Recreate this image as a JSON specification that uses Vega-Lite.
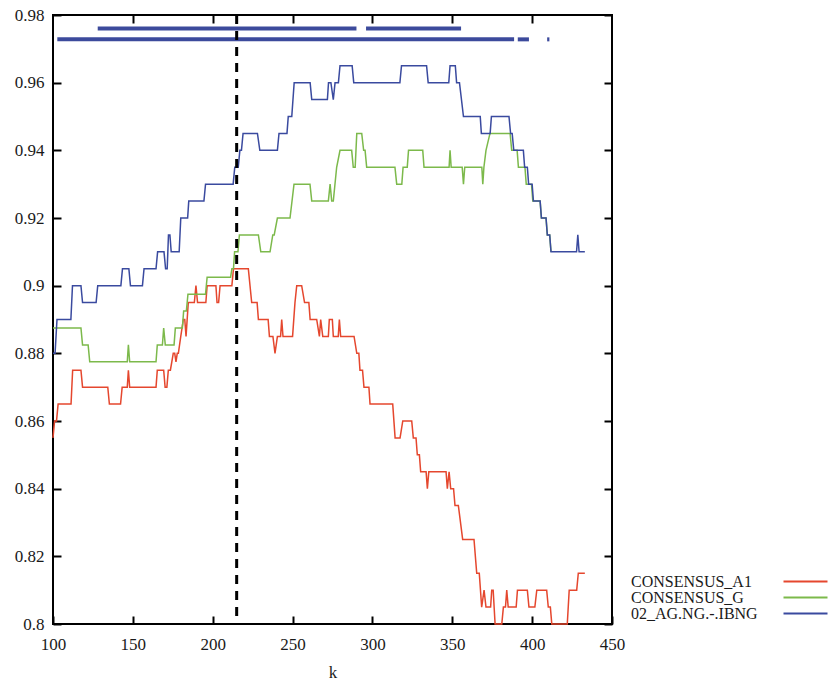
{
  "$schema": "https://vega.github.io/schema/vega-lite/v6.json",
  "width": 559,
  "height": 609,
  "autosize": {"type": "none"},
  "padding": {"left": 53, "top": 15, "right": 218, "bottom": 57},
  "background": "white",
  "config": {
    "view": {"stroke": "black", "strokeWidth": 2},
    "axis": {
      "labelFont": "Liberation Serif",
      "titleFont": "Liberation Serif",
      "labelFontSize": 17,
      "titleFontSize": 17,
      "titleFontWeight": "normal",
      "labelColor": "#1a1a1a",
      "titleColor": "#1a1a1a",
      "grid": false,
      "domain": false,
      "tickColor": "black",
      "tickWidth": 2,
      "tickSize": -8,
      "labelFlush": false
    }
  },
  "datasets": {
    "lines": [
      {"s":"CONSENSUS_A1","k":100,"v":0.855},{"s":"CONSENSUS_A1","k":101,"v":0.86},{"s":"CONSENSUS_A1","k":102.2,"v":0.86},{"s":"CONSENSUS_A1","k":103.2,"v":0.865},{"s":"CONSENSUS_A1","k":111.3,"v":0.865},{"s":"CONSENSUS_A1","k":112.3,"v":0.875},{"s":"CONSENSUS_A1","k":117.5,"v":0.875},{"s":"CONSENSUS_A1","k":118.5,"v":0.87},{"s":"CONSENSUS_A1","k":134.3,"v":0.87},{"s":"CONSENSUS_A1","k":135.3,"v":0.865},{"s":"CONSENSUS_A1","k":142.3,"v":0.865},{"s":"CONSENSUS_A1","k":143.3,"v":0.87},{"s":"CONSENSUS_A1","k":146.5,"v":0.87},{"s":"CONSENSUS_A1","k":147.2,"v":0.875},{"s":"CONSENSUS_A1","k":148,"v":0.87},{"s":"CONSENSUS_A1","k":164.5,"v":0.87},{"s":"CONSENSUS_A1","k":165.3,"v":0.875},{"s":"CONSENSUS_A1","k":169.3,"v":0.875},{"s":"CONSENSUS_A1","k":170.2,"v":0.87},{"s":"CONSENSUS_A1","k":171.3,"v":0.87},{"s":"CONSENSUS_A1","k":172.2,"v":0.875},{"s":"CONSENSUS_A1","k":173.5,"v":0.875},{"s":"CONSENSUS_A1","k":175.3,"v":0.88},{"s":"CONSENSUS_A1","k":176.2,"v":0.88},{"s":"CONSENSUS_A1","k":177,"v":0.8775},{"s":"CONSENSUS_A1","k":177.8,"v":0.88},{"s":"CONSENSUS_A1","k":178.5,"v":0.88},{"s":"CONSENSUS_A1","k":180,"v":0.885},{"s":"CONSENSUS_A1","k":181.6,"v":0.89},{"s":"CONSENSUS_A1","k":182.5,"v":0.89},{"s":"CONSENSUS_A1","k":183.3,"v":0.885},{"s":"CONSENSUS_A1","k":184.7,"v":0.895},{"s":"CONSENSUS_A1","k":188.5,"v":0.895},{"s":"CONSENSUS_A1","k":189.5,"v":0.9},{"s":"CONSENSUS_A1","k":190.5,"v":0.895},{"s":"CONSENSUS_A1","k":195.7,"v":0.895},{"s":"CONSENSUS_A1","k":196.5,"v":0.9},{"s":"CONSENSUS_A1","k":202,"v":0.9},{"s":"CONSENSUS_A1","k":202.7,"v":0.895},{"s":"CONSENSUS_A1","k":203.7,"v":0.895},{"s":"CONSENSUS_A1","k":204.6,"v":0.9},{"s":"CONSENSUS_A1","k":212,"v":0.9},{"s":"CONSENSUS_A1","k":213,"v":0.905},{"s":"CONSENSUS_A1","k":222.3,"v":0.905},{"s":"CONSENSUS_A1","k":224.4,"v":0.895},{"s":"CONSENSUS_A1","k":227.8,"v":0.895},{"s":"CONSENSUS_A1","k":228.6,"v":0.89},{"s":"CONSENSUS_A1","k":234.7,"v":0.89},{"s":"CONSENSUS_A1","k":235.5,"v":0.885},{"s":"CONSENSUS_A1","k":237.7,"v":0.885},{"s":"CONSENSUS_A1","k":239,"v":0.88},{"s":"CONSENSUS_A1","k":240.5,"v":0.885},{"s":"CONSENSUS_A1","k":242.5,"v":0.885},{"s":"CONSENSUS_A1","k":243.2,"v":0.89},{"s":"CONSENSUS_A1","k":244,"v":0.885},{"s":"CONSENSUS_A1","k":250,"v":0.885},{"s":"CONSENSUS_A1","k":251.5,"v":0.895},{"s":"CONSENSUS_A1","k":252.6,"v":0.9},{"s":"CONSENSUS_A1","k":255.7,"v":0.9},{"s":"CONSENSUS_A1","k":257.5,"v":0.895},{"s":"CONSENSUS_A1","k":260.2,"v":0.895},{"s":"CONSENSUS_A1","k":261,"v":0.89},{"s":"CONSENSUS_A1","k":265.1,"v":0.89},{"s":"CONSENSUS_A1","k":266.8,"v":0.885},{"s":"CONSENSUS_A1","k":267.6,"v":0.89},{"s":"CONSENSUS_A1","k":268.9,"v":0.885},{"s":"CONSENSUS_A1","k":272.4,"v":0.885},{"s":"CONSENSUS_A1","k":273,"v":0.89},{"s":"CONSENSUS_A1","k":274.9,"v":0.89},{"s":"CONSENSUS_A1","k":275.5,"v":0.885},{"s":"CONSENSUS_A1","k":278.6,"v":0.885},{"s":"CONSENSUS_A1","k":279.3,"v":0.89},{"s":"CONSENSUS_A1","k":280.1,"v":0.885},{"s":"CONSENSUS_A1","k":288.5,"v":0.885},{"s":"CONSENSUS_A1","k":290.2,"v":0.88},{"s":"CONSENSUS_A1","k":291.5,"v":0.88},{"s":"CONSENSUS_A1","k":292.2,"v":0.875},{"s":"CONSENSUS_A1","k":293.8,"v":0.875},{"s":"CONSENSUS_A1","k":294.7,"v":0.87},{"s":"CONSENSUS_A1","k":297.8,"v":0.87},{"s":"CONSENSUS_A1","k":298.5,"v":0.865},{"s":"CONSENSUS_A1","k":312.7,"v":0.865},{"s":"CONSENSUS_A1","k":314.2,"v":0.855},{"s":"CONSENSUS_A1","k":317.3,"v":0.855},{"s":"CONSENSUS_A1","k":319,"v":0.86},{"s":"CONSENSUS_A1","k":324.6,"v":0.86},{"s":"CONSENSUS_A1","k":325.6,"v":0.855},{"s":"CONSENSUS_A1","k":327.3,"v":0.855},{"s":"CONSENSUS_A1","k":328.1,"v":0.85},{"s":"CONSENSUS_A1","k":329.4,"v":0.85},{"s":"CONSENSUS_A1","k":330.2,"v":0.845},{"s":"CONSENSUS_A1","k":333.6,"v":0.845},{"s":"CONSENSUS_A1","k":334.4,"v":0.84},{"s":"CONSENSUS_A1","k":335.3,"v":0.845},{"s":"CONSENSUS_A1","k":346.1,"v":0.845},{"s":"CONSENSUS_A1","k":346.9,"v":0.84},{"s":"CONSENSUS_A1","k":348,"v":0.845},{"s":"CONSENSUS_A1","k":349,"v":0.84},{"s":"CONSENSUS_A1","k":350.8,"v":0.84},{"s":"CONSENSUS_A1","k":351.7,"v":0.835},{"s":"CONSENSUS_A1","k":353.8,"v":0.835},{"s":"CONSENSUS_A1","k":356.5,"v":0.825},{"s":"CONSENSUS_A1","k":363.6,"v":0.825},{"s":"CONSENSUS_A1","k":365.3,"v":0.815},{"s":"CONSENSUS_A1","k":366.9,"v":0.815},{"s":"CONSENSUS_A1","k":368.4,"v":0.805},{"s":"CONSENSUS_A1","k":369.9,"v":0.81},{"s":"CONSENSUS_A1","k":371.1,"v":0.805},{"s":"CONSENSUS_A1","k":374,"v":0.805},{"s":"CONSENSUS_A1","k":374.7,"v":0.81},{"s":"CONSENSUS_A1","k":375.6,"v":0.81},{"s":"CONSENSUS_A1","k":376.8,"v":0.8},{"s":"CONSENSUS_A1","k":381,"v":0.8},{"s":"CONSENSUS_A1","k":382,"v":0.805},{"s":"CONSENSUS_A1","k":383.3,"v":0.805},{"s":"CONSENSUS_A1","k":384.1,"v":0.81},{"s":"CONSENSUS_A1","k":385,"v":0.805},{"s":"CONSENSUS_A1","k":390,"v":0.805},{"s":"CONSENSUS_A1","k":390.8,"v":0.81},{"s":"CONSENSUS_A1","k":397,"v":0.81},{"s":"CONSENSUS_A1","k":398,"v":0.805},{"s":"CONSENSUS_A1","k":401.7,"v":0.805},{"s":"CONSENSUS_A1","k":402.9,"v":0.81},{"s":"CONSENSUS_A1","k":409.1,"v":0.81},{"s":"CONSENSUS_A1","k":410.1,"v":0.805},{"s":"CONSENSUS_A1","k":411.4,"v":0.805},{"s":"CONSENSUS_A1","k":412.3,"v":0.8},{"s":"CONSENSUS_A1","k":422,"v":0.8},{"s":"CONSENSUS_A1","k":423.2,"v":0.81},{"s":"CONSENSUS_A1","k":427.9,"v":0.81},{"s":"CONSENSUS_A1","k":428.9,"v":0.815},{"s":"CONSENSUS_A1","k":433,"v":0.815},

      {"s":"CONSENSUS_G","k":100,"v":0.8875},{"s":"CONSENSUS_G","k":117.5,"v":0.8875},{"s":"CONSENSUS_G","k":118.5,"v":0.8825},{"s":"CONSENSUS_G","k":122,"v":0.8825},{"s":"CONSENSUS_G","k":123,"v":0.8775},{"s":"CONSENSUS_G","k":146.5,"v":0.8775},{"s":"CONSENSUS_G","k":147.2,"v":0.8825},{"s":"CONSENSUS_G","k":148,"v":0.8775},{"s":"CONSENSUS_G","k":164.5,"v":0.8775},{"s":"CONSENSUS_G","k":165.3,"v":0.8825},{"s":"CONSENSUS_G","k":168.5,"v":0.8825},{"s":"CONSENSUS_G","k":169.3,"v":0.8875},{"s":"CONSENSUS_G","k":170.3,"v":0.8825},{"s":"CONSENSUS_G","k":175.8,"v":0.8825},{"s":"CONSENSUS_G","k":176.6,"v":0.8875},{"s":"CONSENSUS_G","k":181,"v":0.8875},{"s":"CONSENSUS_G","k":181.8,"v":0.8925},{"s":"CONSENSUS_G","k":183.5,"v":0.8925},{"s":"CONSENSUS_G","k":184.5,"v":0.8975},{"s":"CONSENSUS_G","k":195.5,"v":0.8975},{"s":"CONSENSUS_G","k":196.5,"v":0.9025},{"s":"CONSENSUS_G","k":211.2,"v":0.9025},{"s":"CONSENSUS_G","k":212,"v":0.905},{"s":"CONSENSUS_G","k":213,"v":0.905},{"s":"CONSENSUS_G","k":213.7,"v":0.91},{"s":"CONSENSUS_G","k":215.8,"v":0.91},{"s":"CONSENSUS_G","k":216.7,"v":0.915},{"s":"CONSENSUS_G","k":228.6,"v":0.915},{"s":"CONSENSUS_G","k":230.1,"v":0.91},{"s":"CONSENSUS_G","k":235.9,"v":0.91},{"s":"CONSENSUS_G","k":237.6,"v":0.915},{"s":"CONSENSUS_G","k":238.5,"v":0.915},{"s":"CONSENSUS_G","k":240.5,"v":0.92},{"s":"CONSENSUS_G","k":248.4,"v":0.92},{"s":"CONSENSUS_G","k":250.9,"v":0.93},{"s":"CONSENSUS_G","k":260.9,"v":0.93},{"s":"CONSENSUS_G","k":262,"v":0.925},{"s":"CONSENSUS_G","k":272.4,"v":0.925},{"s":"CONSENSUS_G","k":273.5,"v":0.93},{"s":"CONSENSUS_G","k":274.5,"v":0.925},{"s":"CONSENSUS_G","k":275.5,"v":0.925},{"s":"CONSENSUS_G","k":277.6,"v":0.935},{"s":"CONSENSUS_G","k":279.7,"v":0.94},{"s":"CONSENSUS_G","k":287,"v":0.94},{"s":"CONSENSUS_G","k":288,"v":0.935},{"s":"CONSENSUS_G","k":289.2,"v":0.935},{"s":"CONSENSUS_G","k":290.2,"v":0.945},{"s":"CONSENSUS_G","k":293.3,"v":0.945},{"s":"CONSENSUS_G","k":294.5,"v":0.94},{"s":"CONSENSUS_G","k":295.4,"v":0.94},{"s":"CONSENSUS_G","k":296.4,"v":0.935},{"s":"CONSENSUS_G","k":314.1,"v":0.935},{"s":"CONSENSUS_G","k":315.2,"v":0.93},{"s":"CONSENSUS_G","k":318.4,"v":0.93},{"s":"CONSENSUS_G","k":319.2,"v":0.935},{"s":"CONSENSUS_G","k":321.8,"v":0.935},{"s":"CONSENSUS_G","k":322.6,"v":0.94},{"s":"CONSENSUS_G","k":331.5,"v":0.94},{"s":"CONSENSUS_G","k":332.3,"v":0.935},{"s":"CONSENSUS_G","k":348,"v":0.935},{"s":"CONSENSUS_G","k":348.6,"v":0.94},{"s":"CONSENSUS_G","k":349.3,"v":0.935},{"s":"CONSENSUS_G","k":356.2,"v":0.935},{"s":"CONSENSUS_G","k":357,"v":0.93},{"s":"CONSENSUS_G","k":357.8,"v":0.935},{"s":"CONSENSUS_G","k":368.5,"v":0.935},{"s":"CONSENSUS_G","k":369.1,"v":0.93},{"s":"CONSENSUS_G","k":369.8,"v":0.935},{"s":"CONSENSUS_G","k":371.1,"v":0.94},{"s":"CONSENSUS_G","k":373.6,"v":0.945},{"s":"CONSENSUS_G","k":386.2,"v":0.945},{"s":"CONSENSUS_G","k":387.2,"v":0.94},{"s":"CONSENSUS_G","k":390.6,"v":0.94},{"s":"CONSENSUS_G","k":391.4,"v":0.935},{"s":"CONSENSUS_G","k":395.5,"v":0.935},{"s":"CONSENSUS_G","k":396.3,"v":0.93},{"s":"CONSENSUS_G","k":399.6,"v":0.93},{"s":"CONSENSUS_G","k":400.4,"v":0.925},{"s":"CONSENSUS_G","k":405,"v":0.925},{"s":"CONSENSUS_G","k":405.8,"v":0.92},{"s":"CONSENSUS_G","k":408.7,"v":0.92},{"s":"CONSENSUS_G","k":409.5,"v":0.915},{"s":"CONSENSUS_G","k":411,"v":0.915},{"s":"CONSENSUS_G","k":411.8,"v":0.91},

      {"s":"02_AG.NG.-.IBNG","k":100,"v":0.88},{"s":"02_AG.NG.-.IBNG","k":101.3,"v":0.88},{"s":"02_AG.NG.-.IBNG","k":102.5,"v":0.89},{"s":"02_AG.NG.-.IBNG","k":111.2,"v":0.89},{"s":"02_AG.NG.-.IBNG","k":112.2,"v":0.9},{"s":"02_AG.NG.-.IBNG","k":117.5,"v":0.9},{"s":"02_AG.NG.-.IBNG","k":118.5,"v":0.895},{"s":"02_AG.NG.-.IBNG","k":127,"v":0.895},{"s":"02_AG.NG.-.IBNG","k":128,"v":0.9},{"s":"02_AG.NG.-.IBNG","k":142.5,"v":0.9},{"s":"02_AG.NG.-.IBNG","k":143.5,"v":0.905},{"s":"02_AG.NG.-.IBNG","k":147.5,"v":0.905},{"s":"02_AG.NG.-.IBNG","k":148.5,"v":0.9},{"s":"02_AG.NG.-.IBNG","k":156,"v":0.9},{"s":"02_AG.NG.-.IBNG","k":157,"v":0.905},{"s":"02_AG.NG.-.IBNG","k":164.5,"v":0.905},{"s":"02_AG.NG.-.IBNG","k":165.5,"v":0.91},{"s":"02_AG.NG.-.IBNG","k":169.5,"v":0.91},{"s":"02_AG.NG.-.IBNG","k":170.5,"v":0.905},{"s":"02_AG.NG.-.IBNG","k":171.5,"v":0.905},{"s":"02_AG.NG.-.IBNG","k":172.3,"v":0.915},{"s":"02_AG.NG.-.IBNG","k":173.2,"v":0.915},{"s":"02_AG.NG.-.IBNG","k":174,"v":0.91},{"s":"02_AG.NG.-.IBNG","k":179,"v":0.91},{"s":"02_AG.NG.-.IBNG","k":180,"v":0.92},{"s":"02_AG.NG.-.IBNG","k":184.3,"v":0.92},{"s":"02_AG.NG.-.IBNG","k":185,"v":0.925},{"s":"02_AG.NG.-.IBNG","k":194.5,"v":0.925},{"s":"02_AG.NG.-.IBNG","k":195.5,"v":0.93},{"s":"02_AG.NG.-.IBNG","k":212.8,"v":0.93},{"s":"02_AG.NG.-.IBNG","k":213.8,"v":0.935},{"s":"02_AG.NG.-.IBNG","k":216,"v":0.935},{"s":"02_AG.NG.-.IBNG","k":217,"v":0.94},{"s":"02_AG.NG.-.IBNG","k":218,"v":0.94},{"s":"02_AG.NG.-.IBNG","k":219,"v":0.945},{"s":"02_AG.NG.-.IBNG","k":228,"v":0.945},{"s":"02_AG.NG.-.IBNG","k":229.5,"v":0.94},{"s":"02_AG.NG.-.IBNG","k":240.5,"v":0.94},{"s":"02_AG.NG.-.IBNG","k":241.5,"v":0.945},{"s":"02_AG.NG.-.IBNG","k":246.5,"v":0.945},{"s":"02_AG.NG.-.IBNG","k":247.3,"v":0.95},{"s":"02_AG.NG.-.IBNG","k":249.5,"v":0.95},{"s":"02_AG.NG.-.IBNG","k":251,"v":0.96},{"s":"02_AG.NG.-.IBNG","k":261,"v":0.96},{"s":"02_AG.NG.-.IBNG","k":262,"v":0.955},{"s":"02_AG.NG.-.IBNG","k":271.8,"v":0.955},{"s":"02_AG.NG.-.IBNG","k":272.5,"v":0.96},{"s":"02_AG.NG.-.IBNG","k":274,"v":0.96},{"s":"02_AG.NG.-.IBNG","k":275.5,"v":0.955},{"s":"02_AG.NG.-.IBNG","k":276.6,"v":0.96},{"s":"02_AG.NG.-.IBNG","k":278.7,"v":0.96},{"s":"02_AG.NG.-.IBNG","k":279.7,"v":0.965},{"s":"02_AG.NG.-.IBNG","k":287.3,"v":0.965},{"s":"02_AG.NG.-.IBNG","k":288.3,"v":0.96},{"s":"02_AG.NG.-.IBNG","k":317.2,"v":0.96},{"s":"02_AG.NG.-.IBNG","k":318.2,"v":0.965},{"s":"02_AG.NG.-.IBNG","k":333.9,"v":0.965},{"s":"02_AG.NG.-.IBNG","k":334.9,"v":0.96},{"s":"02_AG.NG.-.IBNG","k":347.8,"v":0.96},{"s":"02_AG.NG.-.IBNG","k":348.6,"v":0.965},{"s":"02_AG.NG.-.IBNG","k":351.9,"v":0.965},{"s":"02_AG.NG.-.IBNG","k":352.7,"v":0.96},{"s":"02_AG.NG.-.IBNG","k":354.5,"v":0.96},{"s":"02_AG.NG.-.IBNG","k":357,"v":0.95},{"s":"02_AG.NG.-.IBNG","k":367.5,"v":0.95},{"s":"02_AG.NG.-.IBNG","k":368.2,"v":0.945},{"s":"02_AG.NG.-.IBNG","k":373.7,"v":0.945},{"s":"02_AG.NG.-.IBNG","k":374.5,"v":0.95},{"s":"02_AG.NG.-.IBNG","k":385.5,"v":0.95},{"s":"02_AG.NG.-.IBNG","k":386.5,"v":0.945},{"s":"02_AG.NG.-.IBNG","k":387.5,"v":0.945},{"s":"02_AG.NG.-.IBNG","k":388.5,"v":0.94},{"s":"02_AG.NG.-.IBNG","k":394.5,"v":0.94},{"s":"02_AG.NG.-.IBNG","k":395.3,"v":0.935},{"s":"02_AG.NG.-.IBNG","k":397,"v":0.935},{"s":"02_AG.NG.-.IBNG","k":397.8,"v":0.93},{"s":"02_AG.NG.-.IBNG","k":400,"v":0.93},{"s":"02_AG.NG.-.IBNG","k":400.8,"v":0.925},{"s":"02_AG.NG.-.IBNG","k":405,"v":0.925},{"s":"02_AG.NG.-.IBNG","k":405.8,"v":0.92},{"s":"02_AG.NG.-.IBNG","k":408.7,"v":0.92},{"s":"02_AG.NG.-.IBNG","k":409.5,"v":0.915},{"s":"02_AG.NG.-.IBNG","k":411,"v":0.915},{"s":"02_AG.NG.-.IBNG","k":411.8,"v":0.91},{"s":"02_AG.NG.-.IBNG","k":427.8,"v":0.91},{"s":"02_AG.NG.-.IBNG","k":428.6,"v":0.915},{"s":"02_AG.NG.-.IBNG","k":429.4,"v":0.91},{"s":"02_AG.NG.-.IBNG","k":433,"v":0.91}
    ],
    "bars": [
      {"a":128,"b":290,"y":0.976},
      {"a":296,"b":355.5,"y":0.976},
      {"a":102.7,"b":388.7,"y":0.9728},
      {"a":391,"b":398,"y":0.9728},
      {"a":409.4,"b":410.8,"y":0.9728}
    ]
  },
  "layer": [
    {
      "data": {"name": "lines"},
      "mark": {"type": "line", "strokeWidth": 1.5, "interpolate": "linear"},
      "encoding": {
        "x": {"field": "k", "type": "quantitative",
              "scale": {"domain": [100, 450], "nice": false, "zero": false},
              "axis": {"orient": "bottom", "values": [100,150,200,250,300,350,400,450], "title": "k", "labelPadding": 20, "titlePadding": 12}},
        "y": {"field": "v", "type": "quantitative",
              "scale": {"domain": [0.8, 0.98], "nice": false, "zero": false},
              "axis": {"orient": "left", "values": [0.8,0.82,0.84,0.86,0.88,0.9,0.92,0.94,0.96,0.98], "format": "~g", "title": null, "labelPadding": 17}},
        "color": {"field": "s", "type": "nominal",
                  "scale": {"domain": ["CONSENSUS_A1", "CONSENSUS_G", "02_AG.NG.-.IBNG"], "range": ["#e5472e", "#7cb94b", "#3a4a9f"]},
                  "legend": {"orient": "none", "legendX": 722.5, "legendY": 558.5, "title": null,
                             "symbolType": "M0,0L8,0", "symbolSize": 121, "symbolStrokeWidth": 2,
                             "labelOffset": -160.5, "labelFont": "Liberation Serif", "labelFontSize": 16,
                             "labelColor": "#1a1a1a", "rowPadding": -1, "padding": 0}}
      }
    },
    {
      "data": {"name": "bars"},
      "mark": {"type": "rule", "strokeWidth": 4, "color": "#3c4a9c"},
      "encoding": {
        "x": {"field": "a", "type": "quantitative",
              "scale": {"domain": [100, 450], "nice": false, "zero": false},
              "axis": {"orient": "top", "labels": false, "title": null, "values": [150,200,250,300,350,400]}},
        "x2": {"field": "b"},
        "y": {"field": "y", "type": "quantitative",
              "scale": {"domain": [0.8, 0.98], "nice": false, "zero": false},
              "axis": {"orient": "right", "labels": false, "title": null, "values": [0.8,0.82,0.84,0.86,0.88,0.9,0.92,0.94,0.96,0.98]}}
      }
    },
    {
      "data": {"values": [{}]},
      "mark": {"type": "rule", "strokeDash": [9, 7], "strokeWidth": 3, "color": "black"},
      "encoding": {
        "x": {"datum": 215, "type": "quantitative", "axis": null, "scale": {"domain": [100, 450], "nice": false, "zero": false}}
      }
    }
  ],
  "resolve": {"axis": {"x": "independent", "y": "independent"}}
}
